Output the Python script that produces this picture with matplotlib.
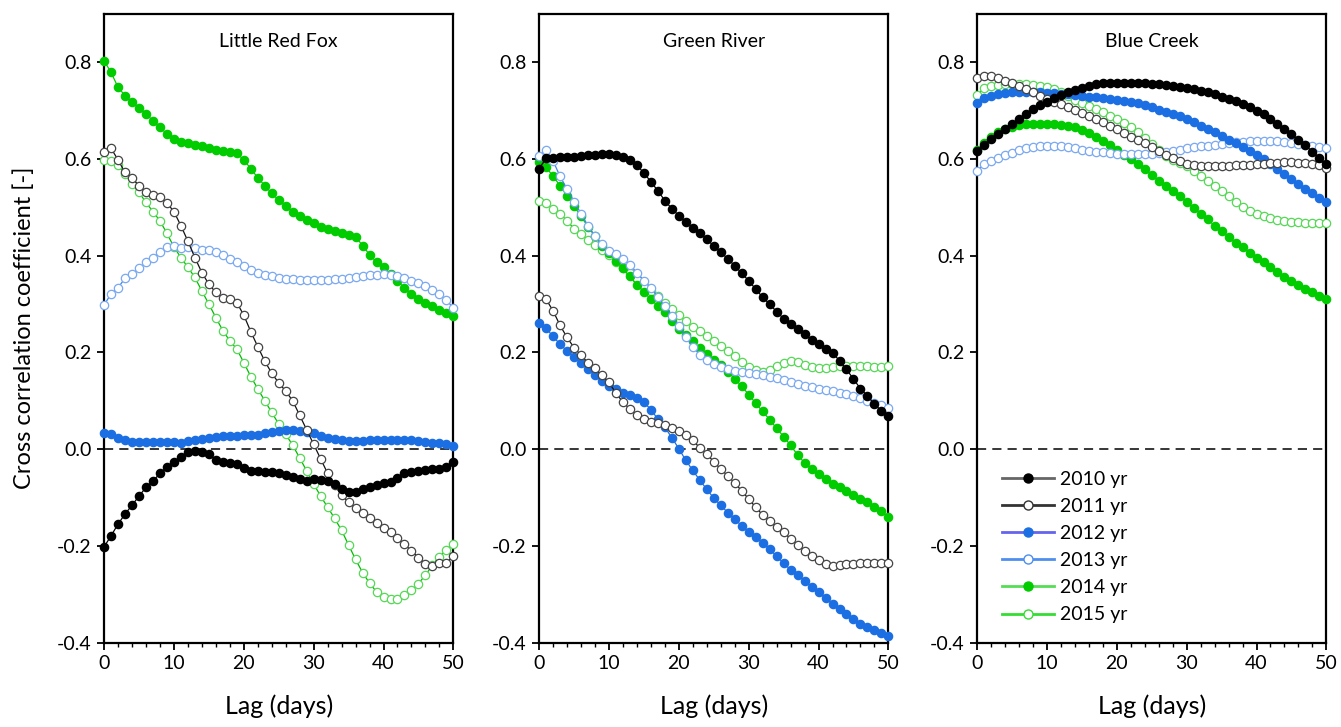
import numpy as np
import matplotlib
matplotlib.use("Agg")
from matplotlib import pyplot as plt
from matplotlib.lines import Line2D
from matplotlib.ticker import MultipleLocator, FormatStrFormatter

plt.rcParams['font.family'] = ['Lato', 'DejaVu Sans']

lag = list(range(51))
years = ['2010 yr', '2011 yr', '2012 yr', '2013 yr', '2014 yr', '2015 yr']
sites = ['Little Red Fox', 'Green River', 'Blue Creek']

# Little Red Fox
lrf_2010 = [-0.202, -0.179, -0.155, -0.134, -0.116, -0.097, -0.079, -0.066, -0.050, -0.037,
            -0.026, -0.016, -0.006, -0.003, -0.006, -0.010, -0.022, -0.026, -0.029, -0.031,
            -0.038, -0.045, -0.045, -0.047, -0.047, -0.050, -0.054, -0.057, -0.061, -0.065,
            -0.062, -0.064, -0.065, -0.072, -0.083, -0.088, -0.088, -0.083, -0.079, -0.074,
            -0.070, -0.068, -0.059, -0.050, -0.047, -0.045, -0.043, -0.041, -0.040, -0.036,
            -0.026]
lrf_2011 = [0.614, 0.622, 0.598, 0.572, 0.560, 0.545, 0.532, 0.526, 0.521, 0.509,
            0.491, 0.462, 0.430, 0.396, 0.365, 0.341, 0.324, 0.312, 0.310, 0.303,
            0.277, 0.243, 0.212, 0.182, 0.157, 0.137, 0.120, 0.100, 0.070, 0.040,
            0.010, -0.020, -0.050, -0.075, -0.095, -0.110, -0.122, -0.132, -0.142, -0.152,
            -0.162, -0.172, -0.184, -0.197, -0.210, -0.224, -0.237, -0.242, -0.236, -0.235,
            -0.221]
lrf_2012 = [0.033, 0.031, 0.024, 0.019, 0.015, 0.014, 0.014, 0.014, 0.015, 0.015,
            0.014, 0.012, 0.017, 0.019, 0.022, 0.024, 0.026, 0.028, 0.028, 0.028,
            0.029, 0.029, 0.030, 0.033, 0.036, 0.037, 0.039, 0.039, 0.038, 0.036,
            0.033, 0.028, 0.023, 0.021, 0.018, 0.017, 0.017, 0.017, 0.018, 0.018,
            0.019, 0.019, 0.019, 0.019, 0.019, 0.017, 0.014, 0.012, 0.012, 0.010,
            0.007]
lrf_2013 = [0.298, 0.321, 0.334, 0.353, 0.362, 0.374, 0.386, 0.396, 0.407, 0.417,
            0.419, 0.415, 0.417, 0.415, 0.412, 0.412, 0.408, 0.401, 0.394, 0.387,
            0.378, 0.370, 0.365, 0.361, 0.357, 0.354, 0.352, 0.351, 0.350, 0.350,
            0.350, 0.350, 0.350, 0.351, 0.352, 0.354, 0.356, 0.358, 0.360, 0.361,
            0.362, 0.360, 0.357, 0.353, 0.348, 0.343, 0.337, 0.330, 0.320, 0.308,
            0.292]
lrf_2014 = [0.803, 0.779, 0.748, 0.731, 0.718, 0.706, 0.693, 0.679, 0.665, 0.652,
            0.642, 0.636, 0.632, 0.629, 0.626, 0.622, 0.618, 0.616, 0.614, 0.612,
            0.598, 0.580, 0.561, 0.545, 0.529, 0.515, 0.503, 0.491, 0.481, 0.474,
            0.467, 0.460, 0.455, 0.450, 0.446, 0.442, 0.439, 0.421, 0.402, 0.387,
            0.377, 0.362, 0.348, 0.333, 0.321, 0.311, 0.302, 0.295, 0.287, 0.281,
            0.276]
lrf_2015 = [0.598, 0.595, 0.587, 0.569, 0.548, 0.531, 0.510, 0.491, 0.472, 0.446,
            0.418, 0.396, 0.376, 0.355, 0.327, 0.300, 0.272, 0.245, 0.224, 0.207,
            0.179, 0.150, 0.125, 0.100, 0.076, 0.052, 0.031, 0.008, -0.018, -0.045,
            -0.072, -0.097, -0.120, -0.143, -0.168, -0.198, -0.228, -0.255, -0.277, -0.295,
            -0.306, -0.310, -0.310, -0.302, -0.292, -0.278, -0.260, -0.240, -0.222, -0.208,
            -0.195]

# Green River
gr_2010 = [0.580, 0.601, 0.602, 0.603, 0.603, 0.605, 0.606, 0.608, 0.609, 0.610,
           0.610, 0.608, 0.604, 0.598, 0.587, 0.571, 0.553, 0.534, 0.514, 0.497,
           0.483, 0.470, 0.458, 0.446, 0.434, 0.420, 0.407, 0.394, 0.379, 0.364,
           0.348, 0.331, 0.314, 0.300, 0.284, 0.270, 0.259, 0.248, 0.238, 0.226,
           0.217, 0.208, 0.199, 0.183, 0.165, 0.145, 0.125, 0.110, 0.093, 0.079,
           0.069]
gr_2011 = [0.317, 0.310, 0.286, 0.256, 0.231, 0.210, 0.194, 0.179, 0.167, 0.153,
           0.138, 0.116, 0.097, 0.083, 0.070, 0.062, 0.057, 0.054, 0.050, 0.044,
           0.038, 0.030, 0.018, 0.003, -0.010, -0.026, -0.041, -0.055, -0.070, -0.086,
           -0.103, -0.120, -0.136, -0.149, -0.161, -0.172, -0.185, -0.198, -0.210, -0.221,
           -0.230, -0.238, -0.241, -0.239, -0.238, -0.237, -0.236, -0.236, -0.235, -0.235,
           -0.235]
gr_2012 = [0.261, 0.250, 0.233, 0.217, 0.203, 0.190, 0.178, 0.165, 0.153, 0.141,
           0.131, 0.124, 0.117, 0.112, 0.106, 0.097, 0.082, 0.062, 0.045, 0.024,
           0.001, -0.023, -0.044, -0.064, -0.083, -0.101, -0.116, -0.131, -0.145, -0.158,
           -0.171, -0.181, -0.193, -0.207, -0.221, -0.236, -0.249, -0.261, -0.272, -0.284,
           -0.296, -0.308, -0.320, -0.331, -0.341, -0.352, -0.361, -0.367, -0.373, -0.379,
           -0.386]
gr_2013 = [0.607, 0.619, 0.596, 0.564, 0.538, 0.512, 0.487, 0.462, 0.441, 0.424,
           0.410, 0.403, 0.394, 0.381, 0.365, 0.348, 0.333, 0.315, 0.295, 0.275,
           0.255, 0.232, 0.212, 0.195, 0.185, 0.176, 0.169, 0.165, 0.162, 0.159,
           0.157, 0.155, 0.153, 0.150, 0.148, 0.143, 0.138, 0.134, 0.131, 0.129,
           0.125, 0.123, 0.121, 0.117, 0.114, 0.110, 0.105, 0.100, 0.095, 0.091,
           0.086]
gr_2014 = [0.593, 0.583, 0.564, 0.545, 0.524, 0.503, 0.481, 0.460, 0.440, 0.421,
           0.405, 0.390, 0.374, 0.357, 0.340, 0.325, 0.310, 0.296, 0.283, 0.265,
           0.249, 0.236, 0.223, 0.210, 0.197, 0.185, 0.173, 0.160, 0.146, 0.130,
           0.113, 0.095, 0.078, 0.061, 0.043, 0.026, 0.008, -0.012, -0.028, -0.040,
           -0.051, -0.062, -0.071, -0.079, -0.087, -0.095, -0.102, -0.110, -0.119, -0.128,
           -0.141]
gr_2015 = [0.514, 0.509, 0.496, 0.487, 0.472, 0.456, 0.445, 0.433, 0.422, 0.412,
           0.401, 0.386, 0.374, 0.364, 0.352, 0.338, 0.327, 0.316, 0.303, 0.290,
           0.277, 0.264, 0.253, 0.244, 0.234, 0.224, 0.214, 0.203, 0.192, 0.181,
           0.170, 0.163, 0.160, 0.164, 0.172, 0.179, 0.183, 0.180, 0.173, 0.169,
           0.168, 0.168, 0.170, 0.171, 0.172, 0.172, 0.172, 0.171, 0.169, 0.170,
           0.172]

# Blue Creek
bc_2010 = [0.617, 0.629, 0.641, 0.651, 0.662, 0.672, 0.683, 0.693, 0.703, 0.711,
           0.718, 0.725, 0.732, 0.738, 0.743, 0.747, 0.751, 0.754, 0.756, 0.757,
           0.757, 0.757, 0.757, 0.756, 0.756, 0.755, 0.754, 0.752, 0.750, 0.748,
           0.746, 0.744, 0.741, 0.738, 0.734, 0.729, 0.724, 0.719, 0.713, 0.707,
           0.700, 0.692, 0.683, 0.673, 0.662, 0.651, 0.640, 0.628, 0.615, 0.602,
           0.589]
bc_2011 = [0.767, 0.771, 0.771, 0.767, 0.762, 0.757, 0.751, 0.745, 0.738, 0.731,
           0.724, 0.718, 0.713, 0.707, 0.701, 0.695, 0.689, 0.683, 0.676, 0.668,
           0.661, 0.653, 0.646, 0.640, 0.633, 0.625, 0.616, 0.608, 0.601, 0.595,
           0.590, 0.587, 0.586, 0.586, 0.586, 0.586, 0.586, 0.587, 0.587, 0.588,
           0.589, 0.590, 0.591, 0.592, 0.593, 0.593, 0.592, 0.591, 0.589, 0.587,
           0.582]
bc_2012 = [0.716, 0.725, 0.731, 0.734, 0.736, 0.738, 0.739, 0.739, 0.738, 0.738,
           0.737, 0.736, 0.735, 0.734, 0.733, 0.731, 0.729, 0.727, 0.725, 0.723,
           0.721, 0.719, 0.717, 0.715, 0.711, 0.707, 0.702, 0.698, 0.693, 0.688,
           0.683, 0.676, 0.669, 0.662, 0.655, 0.647, 0.640, 0.633, 0.625, 0.617,
           0.609, 0.600, 0.590, 0.579, 0.569, 0.558, 0.548, 0.538, 0.529, 0.520,
           0.510]
bc_2013 = [0.576, 0.589, 0.596, 0.602, 0.608, 0.613, 0.618, 0.622, 0.624, 0.626,
           0.627, 0.627, 0.626, 0.624, 0.622, 0.619, 0.617, 0.615, 0.614, 0.612,
           0.611, 0.610, 0.610, 0.610, 0.610, 0.611, 0.613, 0.615, 0.617, 0.619,
           0.622, 0.624, 0.626, 0.627, 0.629, 0.631, 0.633, 0.634, 0.636, 0.637,
           0.638, 0.638, 0.638, 0.637, 0.636, 0.633, 0.631, 0.629, 0.626, 0.624,
           0.622]
bc_2014 = [0.619, 0.633, 0.645, 0.655, 0.662, 0.667, 0.670, 0.672, 0.672, 0.672,
           0.672, 0.672, 0.671, 0.669, 0.666, 0.660, 0.653, 0.645, 0.637, 0.628,
           0.619, 0.609, 0.599, 0.590, 0.579, 0.567, 0.555, 0.545, 0.534, 0.523,
           0.511, 0.499, 0.487, 0.475, 0.462, 0.450, 0.438, 0.427, 0.417, 0.406,
           0.396, 0.386, 0.376, 0.366, 0.356, 0.347, 0.339, 0.331, 0.324, 0.317,
           0.310]
bc_2015 = [0.732, 0.746, 0.751, 0.753, 0.754, 0.754, 0.754, 0.754, 0.753, 0.751,
           0.749, 0.745, 0.738, 0.730, 0.722, 0.716, 0.710, 0.704, 0.697, 0.689,
           0.682, 0.675, 0.666, 0.656, 0.643, 0.630, 0.618, 0.607, 0.598, 0.592,
           0.586, 0.576, 0.565, 0.555, 0.545, 0.534, 0.524, 0.512, 0.501, 0.493,
           0.487, 0.482, 0.477, 0.474, 0.472, 0.470, 0.469, 0.468, 0.467, 0.467,
           0.467]

site_data = [
    [lrf_2010, lrf_2011, lrf_2012, lrf_2013, lrf_2014, lrf_2015],
    [gr_2010, gr_2011, gr_2012, gr_2013, gr_2014, gr_2015],
    [bc_2010, bc_2011, bc_2012, bc_2013, bc_2014, bc_2015],
]

# (line colour, marker face, marker edge)
styles = [
    ('#000000', '#000000', '#000000'),
    ('#111111', 'white', '#444444'),
    ('#1c6fe3', '#1c6fe3', '#1c6fe3'),
    ('#3d85e8', 'white', '#7aa9f2'),
    ('#00cc00', '#00cc00', '#00cc00'),
    ('#00bb00', 'white', '#55d855'),
]
legend_lines = ['#666666', '#333333', '#6464ee', '#4d8ef0', '#55dd55', '#33dd33']

fig = plt.figure(figsize=(13.41, 7.27), dpi=100)
lefts = [0.0776, 0.402, 0.7286]
width = 0.2605

for i, site in enumerate(sites):
    ax = fig.add_axes([lefts[i], 0.116, width, 0.865])
    for j in reversed(range(6)):
        lc, fc, ec = styles[j]
        ax.plot(lag, site_data[i][j], '-', color=lc, lw=0.9, marker='o', ms=6.0,
                mfc=fc, mec=ec, mew=0.9, clip_on=False, zorder=3 + (5 - j))
    ax.axhline(0, color='black', ls=(0, (6, 4)), lw=1.1, zorder=2)
    ax.set_xlim(0, 50)
    ax.set_ylim(-0.4, 0.9)
    ax.xaxis.set_major_locator(MultipleLocator(10))
    ax.xaxis.set_minor_locator(MultipleLocator(2))
    ax.yaxis.set_major_locator(MultipleLocator(0.2))
    ax.yaxis.set_major_formatter(FormatStrFormatter('%.1f'))
    ax.tick_params(which='major', direction='out', length=5, width=1.3, labelsize=14, pad=4)
    ax.tick_params(which='minor', direction='out', length=3, width=1.0)
    for sp in ax.spines.values():
        sp.set_linewidth(1.6)
    ax.text(0.5, 0.97, site, transform=ax.transAxes, ha='center', va='top', fontsize=14)
    ax.set_xlabel('Lag (days)', fontsize=18, labelpad=16)
    if i == 0:
        ax.set_ylabel('Cross correlation coefficient [-]', fontsize=17, labelpad=16)
    if i == 2:
        handles = []
        for j in range(6):
            lc, fc, ec = styles[j]
            handles.append(Line2D([], [], color=legend_lines[j], lw=2, marker='o', ms=6.5,
                                  mfc=fc, mec=ec if fc != 'white' else legend_lines[j], mew=1.0))
        ax.legend(handles, years, loc='center left', bbox_to_anchor=(0.02, 0.152),
                  frameon=False, fontsize=14, handlelength=2.7, labelspacing=0.52,
                  handletextpad=0.3)

fig.savefig('out.png', dpi=100)
